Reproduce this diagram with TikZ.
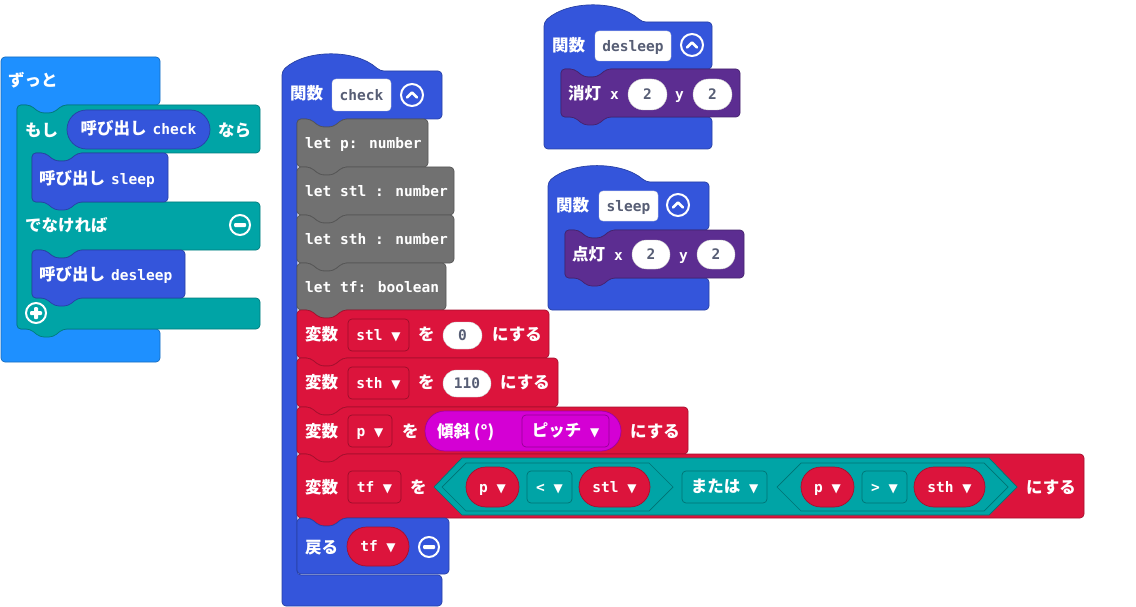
\documentclass[tikz,border=0pt]{standalone}
\usepackage{fontspec}
\usepackage{tikz}
\usetikzlibrary{shapes.misc}

\newfontfamily\jpfam{Noto Sans CJK JP}
\newfontfamily\monofam{DejaVu Sans Mono}
\newfontfamily\symfam{DejaVu Sans}

\definecolor{loopblue}{HTML}{1E90FF}
\definecolor{logic}{HTML}{00A4A6}
\definecolor{func}{HTML}{3455DB}
\definecolor{letgray}{HTML}{717171}
\definecolor{varred}{HTML}{DC143C}
\definecolor{led}{HTML}{5C2D91}
\definecolor{inmag}{HTML}{D400D4}
\definecolor{fieldtext}{HTML}{575E75}

\tikzset{
  blk/.style={fill=#1, draw=#1!75!black, line width=0.7pt, rounded corners=4pt},
  lbl/.style={text=white, anchor=west, inner sep=0pt, text height=13.5pt, text depth=0.5pt,
    font=\jpfam\bfseries\fontsize{16.5}{18}\selectfont},
  code/.style={text=white, anchor=west, inner sep=0pt, text height=11.5pt, text depth=1pt,
    font=\monofam\bfseries\fontsize{14.5}{16}\selectfont},
  pill/.style={rounded rectangle, fill=#1, draw=#1!75!black, line width=0.7pt, inner sep=0pt, text=white,
    text height=11.5pt, text depth=1pt, font=\monofam\bfseries\fontsize{14.5}{16}\selectfont},
  numpill/.style={rounded rectangle, fill=white, draw=black!20, inner sep=0pt, text=fieldtext,
    text height=11pt, text depth=1pt, font=\monofam\bfseries\fontsize{14.5}{16}\selectfont},
  ddbox/.style={rectangle, rounded corners=4pt, fill=#1, draw=#1!70!black, line width=0.7pt, inner sep=0pt, text=white,
    text height=11.5pt, text depth=1pt, font=\monofam\bfseries\fontsize{14.5}{16}\selectfont},
  field/.style={rectangle, rounded corners=4pt, fill=white, draw=black!15, inner sep=0pt, text=fieldtext,
    text height=11.5pt, text depth=1pt, font=\monofam\bfseries\fontsize{14.5}{16}\selectfont},
  hexline/.style={fill=logic, draw=logic!70!black, line width=0.7pt}
}

% statement block: colour, left, top, right, bottom
\newcommand\stmtblk[5]{%
  \draw[blk=#1] (#2,{#3+10}) -- (#2,#3) -- ({#2+13},#3) -- ({#2+23},{#3+8}) -- ({#2+36},{#3+8}) -- ({#2+46},#3)
    -- (#4,#3) -- (#4,#5) -- ({#2+46},#5) -- ({#2+36},{#5+8}) -- ({#2+23},{#5+8}) -- ({#2+13},#5) -- (#2,#5) -- cycle;}
\newcommand\dd{{\symfam\fontsize{12}{12}\selectfont ▼}}
\newcommand\jp[1]{{\jpfam\fontsize{16.5}{18}\selectfont #1}}
\newcommand\mono[1]{{\monofam\fontsize{14.5}{16}\selectfont #1}}
\newcommand\delbtn[2]{%
  \draw[white, line width=2pt] (#1,#2) circle[radius=10];
  \fill[white, rounded corners=1pt] ({#1-6},{#2-2}) rectangle ({#1+6},{#2+2});}
\newcommand\addbtn[2]{%
  \draw[white, line width=2pt] (#1,#2) circle[radius=10];
  \fill[white, rounded corners=1pt] ({#1-6},{#2-2}) rectangle ({#1+6},{#2+2});
  \fill[white, rounded corners=1pt] ({#1-2},{#2-6}) rectangle ({#1+2},{#2+6});}
\newcommand\foldbtn[2]{%
  \draw[white, line width=2pt] (#1,#2) circle[radius=11];
  \draw[white, line width=2.6pt, line cap=round, line join=round] ({#1-5},{#2+2.5}) -- (#1,{#2-2.5}) -- ({#1+5},{#2+2.5});}

\begin{document}
\begin{tikzpicture}[x=1pt,y=-1pt]
\useasboundingbox (0,0) rectangle (1136,607);

% The forever block
\draw[blk=loopblue] (1,80) -- (1,57) -- (160,57) -- (160,105) -- (63,105) -- (53,113) -- (40,113) -- (30,105)
  -- (17,105) -- (17,329) -- (160,329) -- (160,362) -- (1,362) -- cycle;
\node[lbl] (forever) at (8,80) {ずっと};

% The if / else block
\draw[blk=logic] (17,120) -- (17,105) -- (30,105) -- (40,113) -- (53,113) -- (63,105) -- (260,105) -- (260,153)
  -- (78,153) -- (68,161) -- (55,161) -- (45,153) -- (32,153) -- (32,202) -- (260,202) -- (260,250)
  -- (78,250) -- (68,258) -- (55,258) -- (45,250) -- (32,250) -- (32,298) -- (260,298) -- (260,329)
  -- (63,329) -- (53,337) -- (40,337) -- (30,329) -- (17,329) -- cycle;
\node[lbl] (if) at (25,130) {もし};
\node[pill=func, minimum width=143pt, minimum height=39pt] (callcheck) at (138.5,129.5) {\jp{呼び出し}\hspace{6pt}check};
\node[lbl] (then) at (218,130) {なら};
\stmtblk{func}{32}{153}{168}{202}
\node[lbl] (callsleep) at (39,178) {呼び出し\hspace{6pt}\mono{sleep}};
\node[lbl] (else) at (25,225) {でなければ};
\delbtn{240}{225}
\stmtblk{func}{32}{250}{185}{298}
\node[lbl] (calldesleep) at (39,274) {呼び出し\hspace{6pt}\mono{desleep}};
\addbtn{36}{313}

% The check function
\draw[blk=func] (282,90) -- (282,71) .. controls (306,49) and (356,49) .. (380,71) -- (442,71) -- (442,119)
  -- (343,119) -- (333,127) -- (320,127) -- (310,119) -- (297,119) -- (297,575) -- (442,575) -- (442,606)
  -- (282,606) -- cycle;
\node[lbl] (fcheck) at (290,93) {関数};
\node[field, minimum width=59pt, minimum height=32pt] (checkname) at (361.5,95) {check};
\foldbtn{412}{95}

\stmtblk{letgray}{297}{119}{428}{167}
\node[code] (letp) at (305,143) {let p: number};
\stmtblk{letgray}{297}{167}{454}{215}
\node[code] (letstl) at (305,191) {let stl : number};
\stmtblk{letgray}{297}{215}{454}{263}
\node[code] (letsth) at (305,239) {let sth : number};
\stmtblk{letgray}{297}{263}{446}{310}
\node[code] (lettf) at (305,287) {let tf: boolean};

% set stl
\stmtblk{varred}{297}{310}{549}{358}
\node[lbl] (set1) at (305,334) {変数};
\node[ddbox=varred, minimum width=61pt, minimum height=32pt] (vstl) at (378.5,335) {stl \dd};
\node[lbl] (wo1) at (418,334) {を};
\node[numpill, minimum width=39pt, minimum height=27pt] (zero) at (462.5,335.5) {0};
\node[lbl] (do1) at (492,334) {にする};

% set sth
\stmtblk{varred}{297}{358}{558}{407}
\node[lbl] (set2) at (305,382) {変数};
\node[ddbox=varred, minimum width=61pt, minimum height=32pt] (vsth) at (378.5,383) {sth \dd};
\node[lbl] (wo2) at (418,382) {を};
\node[numpill, minimum width=48pt, minimum height=27pt] (hundred) at (467,383.5) {110};
\node[lbl] (do2) at (500,382) {にする};

% set p
\stmtblk{varred}{297}{407}{688}{454}
\node[lbl] (set3) at (305,431) {変数};
\node[ddbox=varred, minimum width=44pt, minimum height=32pt] (vp) at (370,431) {p \dd};
\node[lbl] (wo3) at (402,431) {を};
\node[pill=inmag, minimum width=196pt, minimum height=40pt] (tilt) at (523,431) {};
\node[lbl] (tilttext) at (437,431) {傾斜 (°)};
\node[ddbox=inmag, minimum width=87pt, minimum height=32pt] (pitch) at (565.5,431) {\jp{ピッチ} \dd};
\node[lbl] (do3) at (630,431) {にする};

% set tf
\stmtblk{varred}{297}{454}{1084}{518}
\node[lbl] (set4) at (305,487) {変数};
\node[ddbox=varred, minimum width=53pt, minimum height=32pt] (vtf) at (374.5,487) {tf \dd};
\node[lbl] (wo4) at (410,487) {を};
\draw[hexline] (434,487) -- (462,458) -- (989,458) -- (1017,487) -- (989,515) -- (462,515) -- cycle;
\draw[hexline] (442,487) -- (466,463) -- (649,463) -- (673,487) -- (649,511) -- (466,511) -- cycle;
\draw[hexline] (777,487) -- (801,463) -- (984,463) -- (1008,487) -- (984,511) -- (801,511) -- cycle;
\node[pill=varred, minimum width=53pt, minimum height=40pt] (pl) at (492.5,487) {p \dd};
\node[ddbox=logic, minimum width=45pt, minimum height=32pt] (lt) at (549.5,487) {< \dd};
\node[pill=varred, minimum width=71pt, minimum height=40pt] (stlv) at (614.5,487) {stl \dd};
\node[ddbox=logic, minimum width=85pt, minimum height=32pt] (or) at (724.5,487) {\jp{または} \dd};
\node[pill=varred, minimum width=53pt, minimum height=40pt] (pr) at (827.5,487) {p \dd};
\node[ddbox=logic, minimum width=45pt, minimum height=32pt] (gt) at (884.5,487) {> \dd};
\node[pill=varred, minimum width=71pt, minimum height=40pt] (sthv) at (949.5,487) {sth \dd};
\node[lbl] (do4) at (1026,487) {にする};

% return
\draw[blk=func] (297,530) -- (297,518) -- (310,518) -- (320,526) -- (333,526) -- (343,518) -- (449,518)
  -- (449,574) -- (297,574) -- cycle;
\node[lbl] (ret) at (305,547) {戻る};
\node[pill=varred, minimum width=62pt, minimum height=39pt] (tfv) at (378,546.5) {tf \dd};
\delbtn{429}{547}

% The desleep function
\draw[blk=func] (544,40) -- (544,22) .. controls (568,0) and (618,0) .. (642,22) -- (712,22) -- (712,69)
  -- (607,69) -- (597,77) -- (584,77) -- (574,69) -- (561,69) -- (561,117) -- (712,117) -- (712,149)
  -- (544,149) -- cycle;
\node[lbl] (fdesleep) at (552,45) {関数};
\node[field, minimum width=76pt, minimum height=30pt] (desleepname) at (633,46) {desleep};
\foldbtn{692}{45}
\stmtblk{led}{561}{69}{740}{117}
\node[lbl] (unplot) at (568,93) {消灯};
\node[code] (ux) at (610,94) {x};
\node[numpill, minimum width=39pt, minimum height=31pt] (ux2) at (647.5,94.5) {2};
\node[code] (uy) at (675,94) {y};
\node[numpill, minimum width=39pt, minimum height=31pt] (uy2) at (712.5,94.5) {2};

% The sleep function
\draw[blk=func] (548,200) -- (548,182) .. controls (572,161) and (622,161) .. (646,182) -- (709,182) -- (709,230)
  -- (611,230) -- (601,238) -- (588,238) -- (578,230) -- (565,230) -- (565,278) -- (709,278) -- (709,310)
  -- (548,310) -- cycle;
\node[lbl] (fsleep) at (556,205) {関数};
\node[field, minimum width=59pt, minimum height=30pt] (sleepname) at (628.5,206) {sleep};
\foldbtn{678}{205}
\stmtblk{led}{565}{230}{744}{278}
\node[lbl] (plot) at (572,254) {点灯};
\node[code] (px) at (614,255) {x};
\node[numpill, minimum width=38pt, minimum height=29pt] (px2) at (651,254.5) {2};
\node[code] (py) at (679,255) {y};
\node[numpill, minimum width=38pt, minimum height=29pt] (py2) at (716,254.5) {2};
\end{tikzpicture}
\end{document}
